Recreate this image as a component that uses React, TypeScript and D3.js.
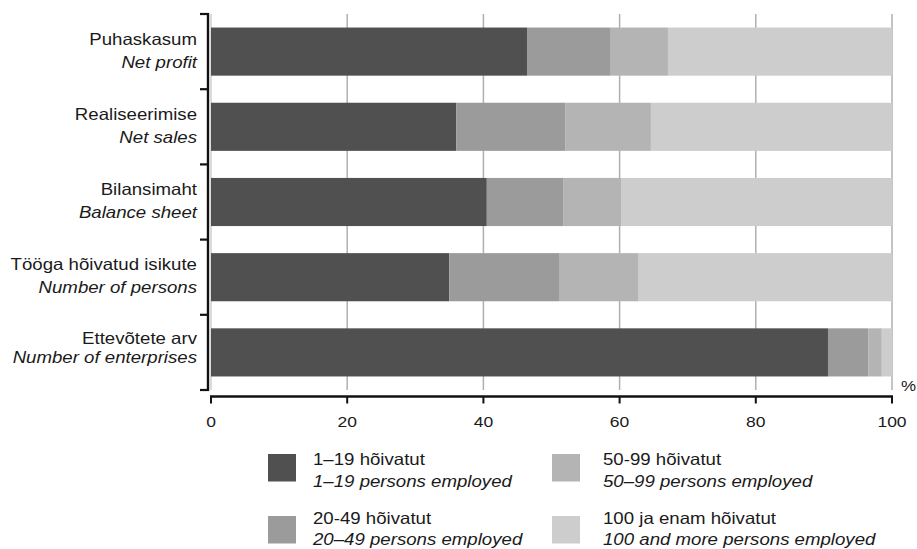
import React from "react";
import * as d3 from "d3";

const categoriesEt = ["Puhaskasum", "Realiseerimise", "Bilansimaht", "Tööga hõivatud isikute", "Ettevõtete arv"];
const categoriesEn = ["Net profit", "Net sales", "Balance sheet", "Number of persons", "Number of enterprises"];

const s1to19 = [46.4, 36.0, 40.5, 35.0, 90.6];
const s20to49 = [12.3, 16.0, 11.2, 16.1, 5.9];
const s50to99 = [8.4, 12.6, 8.5, 11.7, 2.0];
const s100plus = [32.9, 35.4, 39.8, 37.2, 1.5];

const seriesEt = ["1–19 hõivatut", "20-49 hõivatut", "50-99 hõivatut", "100 ja enam hõivatut"];
const seriesEn = ["1–19 persons employed", "20–49 persons employed", "50–99 persons employed", "100 and more persons employed"];
const colors = ["#505050", "#9b9b9b", "#b4b4b4", "#cdcdcd"];

const xTicks = [0, 20, 40, 60, 80, 100];

const FONT = "'Liberation Sans', Arial, Helvetica, sans-serif";
const SX = 1.13;

function Txt({ x, y, anchor = "start", italic = false, size = 16.5, children }: any) {
  return (
    <g transform={`translate(${x},${y}) scale(${SX},1)`}>
      <text
        x={0}
        y={0}
        textAnchor={anchor}
        fontFamily={FONT}
        fontSize={size}
        fontStyle={italic ? "italic" : "normal"}
        fill="#1a1a1a"
      >
        {children}
      </text>
    </g>
  );
}

export default function App() {
  const W = 917;
  const H = 549;
  const x = d3.scaleLinear().domain([0, 100]).range([211, 892]);
  const idx = categoriesEt.map((_, i) => i);
  const y = d3.scaleBand<number>().domain(idx).range([14, 390]).padding(0);
  const step = y.step();

  const stackData = idx.map((i) => ({
    i,
    a: s1to19[i],
    b: s20to49[i],
    c: s50to99[i],
    d: s100plus[i],
  }));
  const stack = d3.stack<any>().keys(["a", "b", "c", "d"]);
  const layers = stack(stackData);

  const bands = [...idx.map((i) => y(i)!), 390];

  const legendSwX = [268, 552];
  const legendTxX = [313, 603];
  const legendRowY = [454, 516];
  const legendLine1 = [465, 523.5];
  const legendLine2 = [487, 545];

  return (
    <svg width={W} height={H} style={{ position: "absolute", left: 0, top: 0, background: "#fff" }}>
      {/* gridlines */}
      {xTicks.map((t) => (
        <line key={"g" + t} x1={x(t)} x2={x(t)} y1={14} y2={390} stroke={t === 0 ? "#b8b8b8" : "#b0b0b0"} strokeWidth={t === 0 ? 1 : 1.5} />
      ))}
      {/* bars */}
      {layers.map((layer, li) =>
        layer.map((d: any, j: number) => (
          <rect
            key={li + "-" + j}
            x={x(d[0])}
            y={y(j)! + step * 0.18}
            width={x(d[1]) - x(d[0])}
            height={step * 0.64}
            fill={colors[li]}
          />
        ))
      )}
      {/* y axis */}
      <line x1={208} x2={208} y1={13} y2={391} stroke="#111" strokeWidth={2.4} />
      {bands.map((b, i) => (
        <line key={"yt" + i} x1={200} x2={209} y1={b} y2={b} stroke="#111" strokeWidth={2.2} />
      ))}
      {/* category labels */}
      {idx.map((i) => {
        const c = y(i)! + step / 2;
        const last = i === idx.length - 1;
        return (
          <g key={"lab" + i}>
            <Txt x={197} y={c + (last ? -8 : -7)} anchor="end">{categoriesEt[i]}</Txt>
            <Txt x={197} y={c + (last ? 10.5 : 16)} anchor="end" italic>{categoriesEn[i]}</Txt>
          </g>
        );
      })}
      {/* x axis */}
      <line x1={210} x2={893} y1={396.5} y2={396.5} stroke="#111" strokeWidth={2.4} />
      {xTicks.map((t) => (
        <g key={"xt" + t}>
          <line x1={x(t)} x2={x(t)} y1={396} y2={403.5} stroke="#111" strokeWidth={2} />
          <Txt x={x(t)} y={427} anchor="middle" size={15.5}>{t}</Txt>
        </g>
      ))}
      <Txt x={901} y={391} size={15}>%</Txt>
      {/* legend */}
      {seriesEt.map((s, k) => {
        const col = k < 2 ? 0 : 1;
        const row = k % 2;
        const sy = legendRowY[row];
        return (
          <g key={"leg" + k}>
            <rect x={legendSwX[col]} y={sy} width={28} height={27.5} fill={colors[k]} />
            <Txt x={legendTxX[col]} y={legendLine1[row]}>{s}</Txt>
            <Txt x={legendTxX[col]} y={legendLine2[row]} italic>{seriesEn[k]}</Txt>
          </g>
        );
      })}
    </svg>
  );
}
